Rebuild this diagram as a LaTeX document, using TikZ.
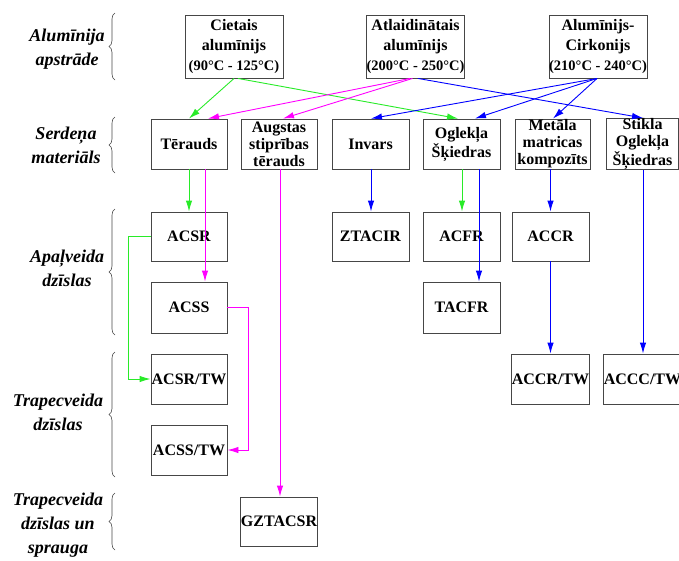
\documentclass[tikz,border=0pt]{standalone}
\usepackage{fontspec}
\setmainfont{Liberation Serif}
\usetikzlibrary{arrows.meta,decorations.pathreplacing}
\definecolor{cgreen}{RGB}{40,235,40}
\definecolor{cmag}{RGB}{255,0,255}
\definecolor{cblue}{RGB}{0,0,255}
\definecolor{cframe}{RGB}{70,70,70}
\begin{document}
\begin{tikzpicture}[x=1pt,y=-1pt,
  box/.style={draw=cframe,line width=0.9pt,rectangle,inner sep=0pt,align=center,
     minimum width=76pt,minimum height=50pt,font=\bfseries\fontsize{16}{17}\selectfont},
  topbox/.style={box,minimum width=98pt,minimum height=63pt,font=\bfseries\fontsize{16}{20}\selectfont},
  lab/.style={align=center,font=\bfseries\itshape\fontsize{18}{24}\selectfont},
  brc/.style={draw=cframe,line width=0.6pt,decorate,decoration={brace,amplitude=6pt}},
  arr/.style={line width=0.9pt,-{Latex[length=11pt,width=6.5pt]}},
  ga/.style={arr,cgreen},
  ma/.style={arr,cmag},
  ba/.style={arr,cblue}]
\useasboundingbox (0,0) rectangle (679,560);
% top row
\node[topbox] (cietais) at (234,46.5) {Cietais\\alumīnijs\\{\fontsize{14.5}{20}\selectfont(90°C - 125°C)}};
\node[topbox,minimum width=97pt] (atlaid) at (415.5,46.5) {Atlaidinātais\\alumīnijs\\{\fontsize{14.5}{20}\selectfont(200°C - 250°C)}};
\node[topbox] (alzr) at (598,46.5) {Alumīnijs-\\Cirkonijs\\{\fontsize{14.5}{20}\selectfont(210°C - 240°C)}};
% second row
\node[box] (teraud) at (189,144) {Tērauds};
\node[box] (augst) at (279,144) {Augstas\\stiprības\\tērauds};
\node[box,minimum width=77pt] (invar) at (370.5,144) {Invars};
\node[box,minimum width=77pt] (oglek) at (461.5,144) {Oglekļa\\Šķiedras};
\node[box,minimum width=75pt] (metal) at (552.5,144) {Metāla\\matricas\\kompozīts};
\node[box,minimum width=72pt] (stikl) at (642.5,144) {Stikla\\Oglekļa\\Šķiedras};
% third row
\node[box,minimum height=49pt] (acsr) at (189,236.5) {ACSR};
\node[box,minimum width=77pt,minimum height=49pt] (ztacir) at (370.5,236.5) {ZTACIR};
\node[box,minimum width=77pt,minimum height=49pt] (acfr) at (461.5,236.5) {ACFR};
\node[box,minimum width=77pt,minimum height=49pt] (accr) at (550.5,236.5) {ACCR};
% fourth row
\node[box,minimum height=51pt] (acss) at (189,307.5) {ACSS};
\node[box,minimum width=77pt,minimum height=51pt] (tacfr) at (461.5,307.5) {TACFR};
% fifth row
\node[box] (acsrtw) at (189,379) {ACSR/TW};
\node[box,minimum width=77pt] (accrtw) at (550.5,379) {ACCR/TW};
\node[box,minimum width=72pt] (accctw) at (642.5,379) {ACCC/TW};
% sixth row
\node[box] (acsstw) at (189,450) {ACSS/TW};
\node[box,minimum height=49pt] (gztacsr) at (279,521.5) {GZTACSR};
% left labels
\node[lab] (l1) at (67,49) {Alumīnija\\apstrāde};
\node[lab] (l2) at (66,145) {Serdeņa\\materiāls};
\node[lab] (l3) at (67,268) {Apaļveida\\dzīslas};
\node[lab] (l4) at (58,412) {Trapecveida\\dzīslas};
\node[lab] (l5) at (58,525) {Trapecveida\\dzīslas un\\sprauga};
% braces
\coordinate (b1a) at (115,80); \coordinate (b1b) at (115,13);
\coordinate (b2a) at (115,173); \coordinate (b2b) at (115,117);
\coordinate (b3a) at (115,335); \coordinate (b3b) at (115,209);
\coordinate (b4a) at (115,477); \coordinate (b4b) at (115,352);
\coordinate (b5a) at (115,550); \coordinate (b5b) at (115,493);
\draw[brc] (b1a) -- (b1b);
\draw[brc] (b2a) -- (b2b);
\draw[brc] (b3a) -- (b3b);
\draw[brc] (b4a) -- (b4b);
\draw[brc] (b5a) -- (b5b);
% arrows from top row
\draw[ga] (cietais.south) -- (teraud.north);
\draw[ga] ([xshift=4pt]cietais.south) -- ([xshift=-3.5pt]oglek.north);
\draw[ma] ([xshift=-5.5pt]atlaid.south) -- ([xshift=19pt]teraud.north);
\draw[ma] ([xshift=-3pt]atlaid.south) -- ([xshift=4pt]augst.north);
\draw[ba] ([xshift=2.5pt]atlaid.south) -- ([xshift=0.5pt]stikl.north);
\draw[ba] ([xshift=-1pt]alzr.south) -- ([xshift=0.5pt]invar.north);
\draw[ba] ([xshift=-1pt]alzr.south) -- ([xshift=13.5pt]oglek.north);
\draw[ba] ([xshift=-1pt]alzr.south) -- ([xshift=0.5pt]metal.north);
% vertical arrows
\draw[ga] (teraud.south) -- (acsr.north);
\draw[ma] ([xshift=16pt]teraud.south) -- ([xshift=16pt]acss.north);
\draw[ma] ([xshift=1pt]augst.south) -- ([xshift=1pt]gztacsr.north);
\draw[ba] ([xshift=0.5pt]invar.south) -- ([xshift=0.5pt]ztacir.north);
\draw[ga] ([xshift=0.5pt]oglek.south) -- ([xshift=0.5pt]acfr.north);
\draw[ba] ([xshift=17.5pt]oglek.south) -- ([xshift=17.5pt]tacfr.north);
\draw[ba] ([xshift=-2pt]metal.south) -- (accr.north);
\draw[ba] (accr.south) -- (accrtw.north);
\draw[ba] ([xshift=0.5pt]stikl.south) -- ([xshift=0.5pt]accctw.north);
% side arrows
\draw[ga] (acsr.west) -- ++(-22,0) |- (acsrtw.west);
\draw[ma] (acss.east) -- ++(21,0) |- (acsstw.east);
\end{tikzpicture}
\end{document}
